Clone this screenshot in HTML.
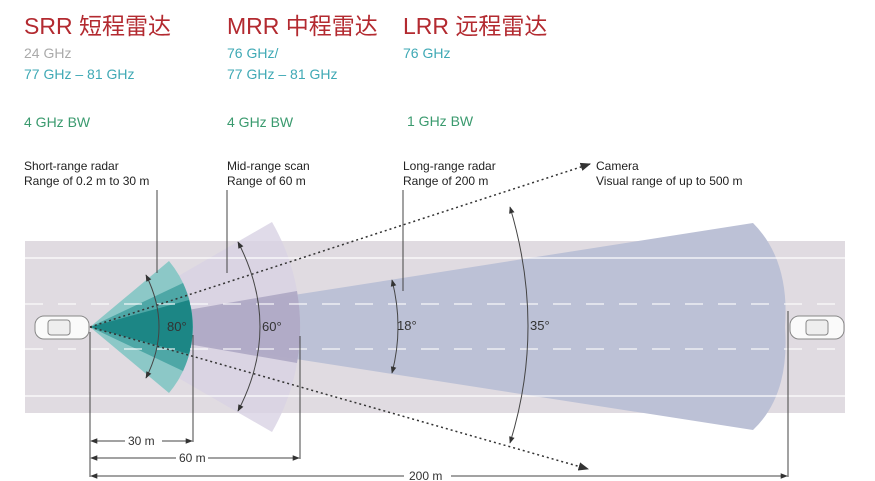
<!DOCTYPE html>
<html><head><meta charset="utf-8"><style>
body{margin:0;background:#fff;width:875px;height:481px;overflow:hidden}
svg{display:block}
.t{font-family:"Liberation Sans","Noto Sans CJK SC",sans-serif}
</style></head><body>
<svg width="875" height="481" viewBox="0 0 875 481" xmlns="http://www.w3.org/2000/svg">
<defs>
<marker id="a" viewBox="0 0 10 10" refX="9" refY="5" markerWidth="7" markerHeight="7" orient="auto-start-reverse"><path d="M0,1 L10,5 L0,9 z" fill="#333"/></marker>
</defs>
<g class="t">
<text x="24" y="34" font-size="23" fill="#b32a30">SRR 短程雷达</text>
<text x="227" y="34" font-size="23" fill="#b32a30">MRR 中程雷达</text>
<text x="403" y="34" font-size="23" fill="#b32a30">LRR 远程雷达</text>
<text x="24" y="58" font-size="14" fill="#aaa">24 GHz</text>
<text x="24" y="79" font-size="14" fill="#3fa9b5">77 GHz – 81 GHz</text>
<text x="227" y="58" font-size="14" fill="#3fa9b5">76 GHz/</text>
<text x="227" y="79" font-size="14" fill="#3fa9b5">77 GHz – 81 GHz</text>
<text x="403" y="58" font-size="14" fill="#3fa9b5">76 GHz</text>
<text x="24" y="127" font-size="14" fill="#3a9a6e">4 GHz BW</text>
<text x="227" y="127" font-size="14" fill="#3a9a6e">4 GHz BW</text>
<text x="407" y="126" font-size="14" fill="#3a9a6e">1 GHz BW</text>
<g font-size="12" fill="#222">
<text x="24" y="170">Short-range radar</text><text x="24" y="185">Range of 0.2 m to 30 m</text>
<text x="227" y="170">Mid-range scan</text><text x="227" y="185">Range of 60 m</text>
<text x="403" y="170">Long-range radar</text><text x="403" y="185">Range of 200 m</text>
<text x="596" y="170">Camera</text><text x="596" y="185">Visual range of up to 500 m</text>
</g>
</g>
<!-- road -->
<rect x="25" y="241" width="820" height="172" fill="#e0dbe1"/>
<!-- LRR beam -->
<path d="M90,327 L753,223 Q790,260 785,327 Q790,395 753,430 Z" fill="#bcc1d6"/>
<!-- MRR -->
<path d="M90,327 L272,222 A210,210 0 0 1 272,432 Z" fill="#d8d2e4" opacity="0.8"/>
<path d="M90,327 L297,291 A210,210 0 0 1 297,363 Z" fill="#aaa5c2" opacity="0.85"/>
<!-- SRR -->
<path d="M90,327 L169,261 A103,103 0 0 1 169,393 Z" fill="#8cc8c7"/>
<path d="M90,327 L183,283 A103,103 0 0 1 183,371 Z" fill="#4ea7a6"/>
<path d="M90,327 L189,300 A103,103 0 0 1 189,354 Z" fill="#1c8685"/>
<!-- road lines on top, semi-transparent -->
<line x1="25" y1="258" x2="845" y2="258" stroke="#fff" stroke-opacity="0.6" stroke-width="2"/>
<line x1="25" y1="396" x2="845" y2="396" stroke="#fff" stroke-opacity="0.6" stroke-width="2"/>
<line x1="25" y1="304" x2="845" y2="304" stroke="#fff" stroke-opacity="0.55" stroke-width="2" stroke-dasharray="18,15"/>
<line x1="25" y1="349" x2="845" y2="349" stroke="#fff" stroke-opacity="0.55" stroke-width="2" stroke-dasharray="18,15"/>
<!-- camera dotted -->
<line x1="90" y1="327" x2="590" y2="164" stroke="#333" stroke-width="1.5" stroke-dasharray="2,3" marker-end="url(#a)"/>
<line x1="90" y1="327" x2="588" y2="469" stroke="#333" stroke-width="1.5" stroke-dasharray="2,3" marker-end="url(#a)"/>
<!-- leaders -->
<g stroke="#444" stroke-width="1" fill="none">
<line x1="157" y1="190" x2="157" y2="273"/>
<line x1="227" y1="190" x2="227" y2="273"/>
<line x1="403" y1="190" x2="403" y2="291"/>
<path d="M146,275 Q172,327 146,378" marker-start="url(#a)" marker-end="url(#a)"/>
<path d="M238,242 Q282,327 238,411" marker-start="url(#a)" marker-end="url(#a)"/>
<path d="M392,280 Q404,327 392,373" marker-start="url(#a)" marker-end="url(#a)"/>
<path d="M510,207 Q546,327 510,443" marker-start="url(#a)" marker-end="url(#a)"/>
<line x1="90" y1="332" x2="90" y2="477"/>
<line x1="193" y1="335" x2="193" y2="442"/>
<line x1="300" y1="336" x2="300" y2="459"/>
<line x1="788" y1="311" x2="788" y2="477"/>
<line x1="91" y1="441" x2="125" y2="441" marker-start="url(#a)"/>
<line x1="162" y1="441" x2="192" y2="441" marker-end="url(#a)"/>
<line x1="91" y1="458" x2="176" y2="458" marker-start="url(#a)"/>
<line x1="208" y1="458" x2="299" y2="458" marker-end="url(#a)"/>
<line x1="91" y1="476" x2="404" y2="476" marker-start="url(#a)"/>
<line x1="451" y1="476" x2="787" y2="476" marker-end="url(#a)"/>
</g>
<g class="t" font-size="12" fill="#333">
<text x="128" y="445">30 m</text>
<text x="179" y="462">60 m</text>
<text x="409" y="480">200 m</text>
<text x="167" y="331" font-size="13">80°</text>
<text x="262" y="331" font-size="13">60°</text>
<text x="397" y="330" font-size="13">18°</text>
<text x="530" y="330" font-size="13">35°</text>
</g>
<!-- cars -->
<g fill="#fafafa" stroke="#888" stroke-width="1">
<rect x="35" y="316" width="54" height="23" rx="9"/>
<rect x="48" y="320" width="22" height="15" rx="3" fill="#eee"/>
<rect x="790" y="316" width="54" height="23" rx="9"/>
<rect x="806" y="320" width="22" height="15" rx="3" fill="#eee"/>
</g>
</svg>
</body></html>
